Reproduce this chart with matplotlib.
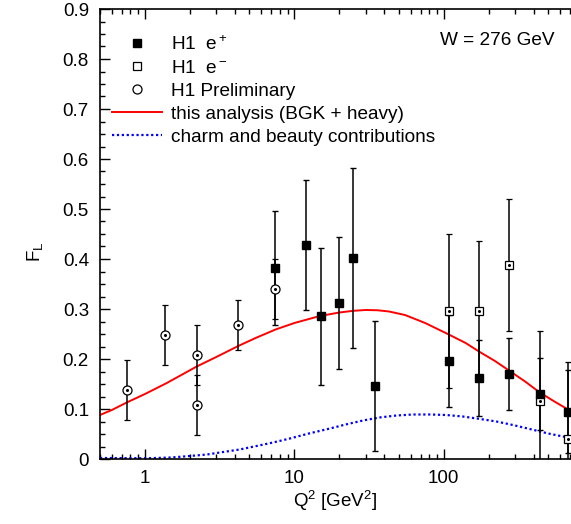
import matplotlib
matplotlib.use("Agg")
import matplotlib.pyplot as plt
from matplotlib.lines import Line2D
import numpy as np

plt.rcParams['font.family'] = ['Liberation Sans', 'DejaVu Sans']
plt.rcParams['mathtext.fontset'] = 'custom'
plt.rcParams['mathtext.rm'] = 'Liberation Sans'
plt.rcParams['mathtext.it'] = 'Liberation Sans'

# H1 e+ (filled squares)
q2_ep = [7.4, 11.9, 15.0, 19.9, 24.7, 34.7, 108, 172, 273, 439, 678]
fl_ep = [0.383, 0.428, 0.286, 0.313, 0.403, 0.147, 0.197, 0.163, 0.170, 0.131, 0.095]
err_ep = [0.114, 0.13, 0.137, 0.132, 0.18, 0.13, 0.092, 0.076, 0.072, 0.072, 0.083]

# H1 e- (open squares)
q2_em = [108, 172, 273, 439, 678]
fl_em = [0.297, 0.297, 0.389, 0.117, 0.041]
err_em = [0.154, 0.14, 0.132, 0.14, 0.154]

# H1 preliminary (open circles)
q2_pr = [0.76, 1.36, 2.23, 2.23, 4.2, 7.4]
fl_pr = [0.139, 0.249, 0.209, 0.109, 0.269, 0.34]
err_pr = [0.06, 0.06, 0.06, 0.06, 0.05, 0.06]

# this analysis (BGK + heavy)
q2_fit = [0.5, 0.6, 0.755, 1.0, 1.4, 2.22, 3.0, 4.21, 5.5, 7.48, 10, 14.8, 20, 25, 30, 36,
          43, 55, 75, 108, 140, 172, 220, 273, 350, 439, 550, 678, 720]
fl_fit = [0.088, 0.098, 0.113, 0.130, 0.152, 0.185, 0.204, 0.226, 0.242, 0.259, 0.272,
          0.286, 0.293, 0.2965, 0.298, 0.2975, 0.295, 0.288, 0.272, 0.249, 0.232, 0.215,
          0.196, 0.177, 0.155, 0.133, 0.115, 0.099, 0.094]

# charm and beauty contributions
q2_cb = [0.5, 1.03, 1.5, 2.0, 2.6, 3.34, 4.3, 5.58, 7.2, 9.33, 12.5, 17.3, 22, 28.8, 37,
         48.3, 62, 80.6, 104, 134, 175, 225, 290, 376, 500, 678, 720]
fl_cb = [0.002, 0.0015, 0.003, 0.006, 0.009, 0.014, 0.019, 0.026, 0.033, 0.041, 0.051,
         0.061, 0.069, 0.077, 0.083, 0.087, 0.089, 0.089, 0.088, 0.085, 0.080, 0.075,
         0.068, 0.060, 0.051, 0.043, 0.041]

fig = plt.figure(figsize=(5.71, 5.24), dpi=100)
ax = fig.add_axes([100 / 571, 1 - 459 / 524, 471 / 571, 450 / 524])

ax.plot(q2_fit, fl_fit, color='#ff0000', lw=1.4, zorder=2)
ax.plot(q2_cb, fl_cb, color='#0000ff', lw=1.6, ls=(0, (1, 1.2)), zorder=2)

ekw = dict(ecolor='black', elinewidth=1.1, capsize=2, capthick=1.0, ls='none', zorder=3)
ax.errorbar(q2_pr, fl_pr, yerr=err_pr, fmt='o', ms=6.5, mfc='white', mec='black', mew=0.9, **ekw)
ax.errorbar(q2_em, fl_em, yerr=err_em, fmt='s', ms=6, mfc='white', mec='black', mew=0.9, **ekw)
ax.errorbar(q2_ep, fl_ep, yerr=err_ep, fmt='s', ms=6.3, mfc='black', mec='black', **ekw)
ax.plot(q2_pr + q2_em, fl_pr + fl_em, 'o', ms=1.2, color='black', ls='none', zorder=4)

ax.set_xscale('log')
ax.set_xlim(0.5, 710)
ax.set_ylim(0, 0.9)
ax.set_yticks(np.arange(0, 0.91, 0.1))
ax.set_yticklabels(['0', '0.1', '0.2', '0.3', '0.4', '0.5', '0.6', '0.7', '0.8', '0.9'])
ax.set_yticks(np.arange(0, 0.9, 0.025), minor=True)
ax.set_xticks([1, 10, 100])
ax.set_xticklabels(['1', '10', '100'])
ax.tick_params(which='both', direction='in', top=True, right=False, labelsize=13.5, width=1)
ax.tick_params(which='major', length=7, pad=8)
ax.tick_params(which='minor', length=3.5)
ax.spines['right'].set_visible(False)
for s in ['left', 'bottom', 'top']:
    ax.spines[s].set_linewidth(1.2)

ax.set_xlabel('Q$^2$ [GeV$^2$]', fontsize=13.5, labelpad=1)
ax.set_ylabel('F$_L$', fontsize=13.5)
ax.yaxis.set_label_coords(-0.117, 0.46)

ax.text(0.966, 0.929, 'W = 276 GeV', transform=ax.transAxes, ha='right', va='center', fontsize=13.7)

handles = [
    Line2D([], [], marker='s', ms=6.3, color='black', ls='none'),
    Line2D([], [], marker='s', ms=6, mfc='white', mec='black', mew=0.9, ls='none'),
    Line2D([], [], marker='o', ms=6.5, mfc='white', mec='black', mew=0.9, ls='none'),
    Line2D([], [], color='#ff0000', lw=1.4),
    Line2D([], [], color='#0000ff', lw=1.6, ls=(0, (1, 1.2))),
]
labels = ['H1  e$^+$', 'H1  e$^-$', 'H1 Preliminary', 'this analysis (BGK + heavy)',
          'charm and beauty contributions']
ax.legend(handles, labels, loc='upper left', bbox_to_anchor=(0.0, 0.97), frameon=False,
          fontsize=13.7, handlelength=2.6, handletextpad=0.5, labelspacing=0.3,
          borderaxespad=0.25)

fig.savefig('out.png', dpi=100)
